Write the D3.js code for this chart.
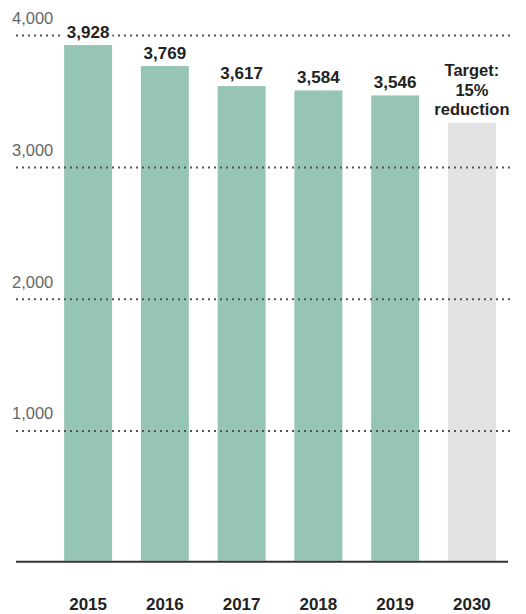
<!DOCTYPE html>
<html>
<head>
<meta charset="utf-8">
<script src="https://cdn.jsdelivr.net/npm/d3@7"></script>
<style>
  body { margin: 0; background: #fff; }
  svg { display: block; font-family: "Liberation Sans", Arial, sans-serif; }
</style>
</head>
<body>
<svg id="canvas" width="526" height="614"></svg>
<script>
// data
const years = ['2015', '2016', '2017', '2018', '2019', '2030']
const values = [3928, 3769, 3617, 3584, 3546, 3339]
const valueLabels = ['3,928', '3,769', '3,617', '3,584', '3,546', null]
const targetLabel = ['Target:', '15%', 'reduction']
const yTicks = [1000, 2000, 3000, 4000]

const svg = d3.select('#canvas')

const x = d3.scaleBand()
    .domain(years)
    .range([48, 512])
    .paddingInner(0.375)
    .paddingOuter(0.21)

const y = d3.scaleLinear()
    .domain([0, 4000])
    .range([562.7, 35.6])

const green = '#96c5b6'
const grey = '#e3e3e5'

// bars
svg.selectAll('rect.bar')
    .data(years)
    .enter()
    .append('rect')
    .attr('class', 'bar')
    .attr('x', d => x(d))
    .attr('width', x.bandwidth())
    .attr('y', (d, i) => y(values[i]))
    .attr('height', (d, i) => y(0) - y(values[i]) - 2)
    .attr('fill', d => d === '2030' ? grey : green)

// dotted gridlines, drawn over the bars
svg.selectAll('line.grid')
    .data(yTicks)
    .enter()
    .append('line')
    .attr('class', 'grid')
    .attr('x1', 16)
    .attr('x2', 512)
    .attr('y1', d => y(d))
    .attr('y2', d => y(d))
    .attr('stroke', '#555')
    .attr('stroke-width', 2)
    .attr('stroke-dasharray', '2,4')

// tick labels
svg.selectAll('text.tick')
    .data(yTicks)
    .enter()
    .append('text')
    .attr('class', 'tick')
    .attr('x', 12)
    .attr('y', d => y(d) - 11.5)
    .attr('font-size', 16.5)
    .attr('fill', '#666')
    .text(d => d3.format(',')(d))

// baseline
svg.append('line')
    .attr('x1', 16)
    .attr('x2', 508)
    .attr('y1', y(0) - 1)
    .attr('y2', y(0) - 1)
    .attr('stroke', '#333')
    .attr('stroke-width', 2)

// value labels (white box behind so the gridline breaks around them)
const labelled = years.filter((d, i) => valueLabels[i])
const valueG = svg.selectAll('g.value')
    .data(labelled)
    .enter()
    .append('g')
    .attr('class', 'value')

valueG.append('text')
    .attr('x', d => x(d) + x.bandwidth() / 2)
    .attr('y', d => y(values[years.indexOf(d)]) - 7.5)
    .attr('text-anchor', 'middle')
    .attr('font-size', 17)
    .attr('font-weight', 'bold')
    .attr('fill', '#222')
    .text(d => valueLabels[years.indexOf(d)])

valueG.each(function() {
    const g = d3.select(this)
    const b = g.select('text').node().getBBox()
    g.insert('rect', 'text')
        .attr('x', b.x - 3)
        .attr('y', b.y + 3)
        .attr('width', b.width + 6)
        .attr('height', b.height - 5)
        .attr('fill', '#fff')
})

// target label
svg.append('text')
    .attr('x', x('2030') + x.bandwidth() / 2)
    .attr('y', 76)
    .attr('text-anchor', 'middle')
    .attr('font-size', 16.5)
    .attr('font-weight', 'bold')
    .attr('fill', '#222')
    .selectAll('tspan')
    .data(targetLabel)
    .enter()
    .append('tspan')
    .attr('x', x('2030') + x.bandwidth() / 2)
    .attr('dy', (d, i) => i === 0 ? 0 : 19.5)
    .text(d => d)

// year labels
svg.selectAll('text.year')
    .data(years)
    .enter()
    .append('text')
    .attr('class', 'year')
    .attr('x', d => x(d) + x.bandwidth() / 2)
    .attr('y', 609.5)
    .attr('text-anchor', 'middle')
    .attr('font-size', 17)
    .attr('font-weight', 'bold')
    .attr('fill', '#222')
    .text(d => d)
</script>
</body>
</html>
